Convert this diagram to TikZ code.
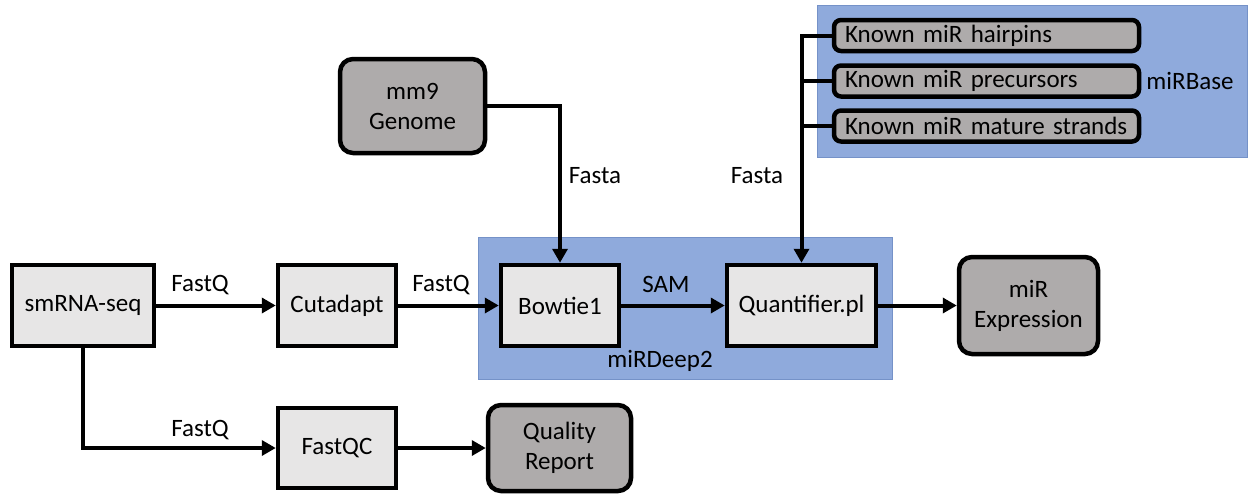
\documentclass[tikz,border=0pt]{standalone}
\usepackage{fontspec}
\setmainfont{Carlito}
\usetikzlibrary{arrows.meta}
\definecolor{boxgray}{HTML}{E7E6E6}
\definecolor{darkgray}{HTML}{AEABAB}
\definecolor{blueback}{HTML}{8FAADC}
\definecolor{blueline}{HTML}{7592C8}
\tikzset{
  procbox/.style={draw=black, line width=4.5pt, fill=boxgray, font=\fontsize{25}{30}\selectfont, align=center, inner sep=0pt},
  databox/.style={draw=black, line width=4.5pt, fill=darkgray, rounded corners=13pt, font=\fontsize{25}{30}\selectfont, align=center, inner sep=0pt},
  mirbox/.style={draw=black, line width=4.5pt, fill=darkgray, rounded corners=7pt, font=\fontsize{25}{30}\selectfont, minimum width=305pt, minimum height=31pt, inner sep=0pt, text width=283pt, align=left},
  group/.style={draw=blueline, line width=1pt, fill=blueback},
  lbl/.style={font=\fontsize{25}{30}\selectfont, inner sep=0pt},
  arr/.style={line width=4pt, -{Triangle[length=14pt,width=15pt]}},
  ln/.style={line width=4pt}
}
\begin{document}
\begin{tikzpicture}[x=1pt,y=-1pt]
\useasboundingbox (0,0) rectangle (1249,496);
% group backgrounds
\node[group, minimum width=414pt, minimum height=142pt, inner sep=0pt] (mirdeep) at (685,308) {};
\node[group, minimum width=430pt, minimum height=152pt, inner sep=0pt] (mirbase) at (1032,81) {};
% process boxes
\node[procbox, minimum width=142pt, minimum height=81pt] (smrna) at (83,305.5) {smRNA-seq};
\node[procbox, minimum width=118pt, minimum height=81pt] (cut) at (337,305.5) {Cutadapt};
\node[procbox, minimum width=118pt, minimum height=80pt] (fastqc) at (337,448) {FastQC};
\node[procbox, minimum width=118pt, minimum height=81pt] (bowtie) at (560,305.5) {Bowtie1};
\node[procbox, minimum width=149pt, minimum height=81pt] (quant) at (801.5,305.5) {Quantifier.pl};
% data boxes
\node[databox, minimum width=143pt, minimum height=86pt] (qual) at (559.5,448) {Quality\\Report};
\node[databox, minimum width=145pt, minimum height=94pt] (mm9) at (412.5,106) {mm9\\Genome};
\node[databox, minimum width=139pt, minimum height=97pt] (expr) at (1028.5,305.5) {miR\\Expression};
\node[mirbox] (hair) at (986.5,35.5) {Known miR hairpins};
\node[mirbox] (prec) at (986.5,81) {Known miR precursors};
\node[mirbox] (mat) at (986.5,126) {Known miR mature strands};
% connectors
\draw[arr] (smrna) -- (cut);
\draw[arr] (smrna.south) |- (fastqc.west);
\draw[arr] (fastqc) -- (qual);
\draw[arr] (cut) -- (bowtie);
\draw[arr] (bowtie) -- (quant);
\draw[arr] (quant) -- (expr);
\draw[arr] (mm9.east) -| (bowtie.north);
\draw[arr] (hair.west) -| (quant.north);
\draw[ln] (prec.west) -- (prec.west -| quant.north);
\draw[ln] (mat.west) -- (mat.west -| quant.north);
% labels
\node[lbl] (l1) at (200,285) {FastQ};
\node[lbl] (l2) at (441,285) {FastQ};
\node[lbl] (l3) at (200,430) {FastQ};
\node[lbl] (l4) at (666,284) {SAM};
\node[lbl] (l5) at (660,361) {miRDeep2};
\node[lbl] (l6) at (595,176) {Fasta};
\node[lbl] (l7) at (757,176) {Fasta};
\node[lbl] (l8) at (1190,81) {miRBase};
\end{tikzpicture}
\end{document}
